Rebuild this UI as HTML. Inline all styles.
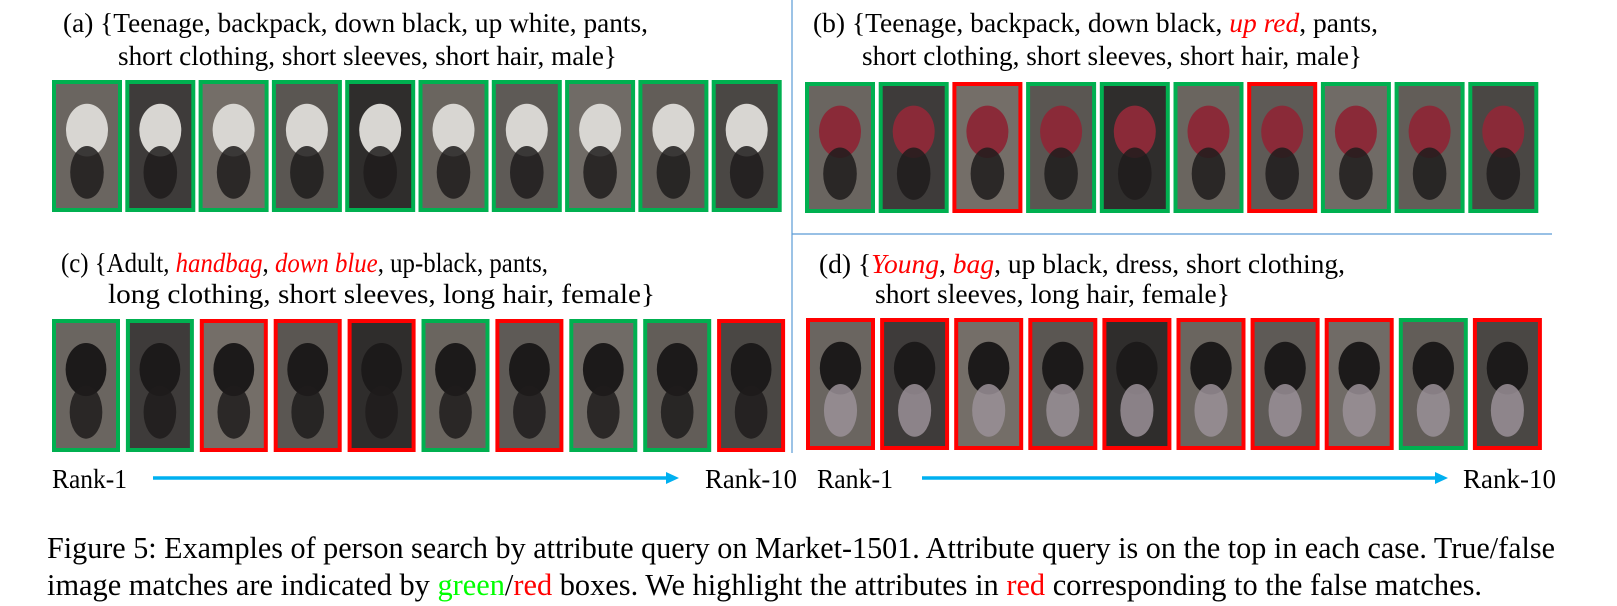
<!DOCTYPE html>
<html><head><meta charset="utf-8"><style>
html,body{margin:0;padding:0;background:#fff}
svg{display:block}
text{font-family:"Liberation Serif",serif;font-size:27px;fill:#000}
.cap{font-size:31px}
.r{fill:#f00;font-style:italic}
</style></head><body>
<svg id="fig" width="1617" height="606" viewBox="0 0 1617 606" xmlns="http://www.w3.org/2000/svg">
<line x1="792" y1="0" x2="792" y2="453" stroke="#5b9bd5" stroke-width="1.2"/>
<line x1="792" y1="234" x2="1552" y2="234" stroke="#5b9bd5" stroke-width="1.2"/>

<text x="63" y="32" textLength="585" lengthAdjust="spacingAndGlyphs">(a) {Teenage, backpack, down black, up white, pants,</text>
<text x="118" y="65" textLength="499" lengthAdjust="spacingAndGlyphs">short clothing, short sleeves, short hair, male}</text>
<text x="813" y="32" textLength="565" lengthAdjust="spacingAndGlyphs">(b) {Teenage, backpack, down black, <tspan class="r">up red</tspan>, pants,</text>
<text x="862" y="65" textLength="500" lengthAdjust="spacingAndGlyphs">short clothing, short sleeves, short hair, male}</text>
<text x="61" y="272" textLength="487" lengthAdjust="spacingAndGlyphs">(c) {Adult, <tspan class="r">handbag</tspan>, <tspan class="r">down blue</tspan>, up-black, pants,</text>
<text x="108" y="303" textLength="547" lengthAdjust="spacingAndGlyphs">long clothing,  short sleeves, long hair, female}</text>
<text x="819" y="273" textLength="526" lengthAdjust="spacingAndGlyphs">(d) {<tspan class="r">Young</tspan>, <tspan class="r">bag</tspan>, up black, dress, short clothing,</text>
<text x="875" y="303" textLength="355" lengthAdjust="spacingAndGlyphs">short sleeves,  long hair, female}</text>

<g id="rows"></g>

<text x="52" y="488" textLength="75" lengthAdjust="spacingAndGlyphs">Rank-1</text>
<line x1="153" y1="478" x2="668" y2="478" stroke="#00b0f0" stroke-width="3.5"/>
<polygon points="666,472 679,478 666,484" fill="#00b0f0"/>
<text x="705" y="488" textLength="92" lengthAdjust="spacingAndGlyphs">Rank-10</text>
<text x="817" y="488" textLength="76" lengthAdjust="spacingAndGlyphs">Rank-1</text>
<line x1="922" y1="478" x2="1437" y2="478" stroke="#00b0f0" stroke-width="3.5"/>
<polygon points="1435,472 1448,478 1435,484" fill="#00b0f0"/>
<text x="1463" y="488" textLength="93" lengthAdjust="spacingAndGlyphs">Rank-10</text>

<text class="cap" x="47" y="558" textLength="1508" lengthAdjust="spacingAndGlyphs">Figure 5: Examples of person search by attribute query on Market-1501. Attribute query is on the top in each case. True/false</text>
<text class="cap" x="47" y="595" textLength="1435" lengthAdjust="spacingAndGlyphs">image matches are indicated by <tspan fill="#00ff00">green</tspan>/<tspan fill="#ff0000">red</tspan> boxes. We highlight the attributes in <tspan fill="#ff0000">red</tspan> corresponding to the false matches.</text>
</svg>
<script>
// match flags per rank (1 = true match / green, 0 = false / red)
const rowA = [1,1,1,1,1,1,1,1,1,1];
const rowB = [1,1,0,1,1,1,0,1,1,1];
const rowC = [1,1,0,0,0,1,0,1,1,0];
const rowD = [0,0,0,0,0,0,0,0,1,0];
const layout = [
  {name:'a', flags:rowA, x0:52,  pitch:73.3, y:80,  h:132, w:70},
  {name:'b', flags:rowB, x0:805, pitch:73.7, y:82,  h:131, w:70},
  {name:'c', flags:rowC, x0:52,  pitch:73.9, y:319, h:133, w:68},
  {name:'d', flags:rowD, x0:806, pitch:74.1, y:318, h:132, w:69}
];
const NS='http://www.w3.org/2000/svg';
const g=document.getElementById('rows');
const tones=['#6a6560','#3e3b3a','#746e68','#5a5652','#2f2d2c','#6a655f','#5e5a56','#706b66','#625d58','#4a4744'];
layout.forEach(row=>{
  row.flags.forEach((f,i)=>{
    const x=row.x0+i*row.pitch;
    const r=document.createElementNS(NS,'rect');
    
    
    r.setAttribute('x',x+2);r.setAttribute('y',row.y+2);
    r.setAttribute('width',row.w-4);r.setAttribute('height',row.h-4);
    r.setAttribute('fill',tones[i%tones.length]);
    r.setAttribute('stroke',f?'#00b050':'#ff0000');r.setAttribute('stroke-width','4');
    g.appendChild(r);
    const top=document.createElementNS(NS,'ellipse');
    
    
    top.setAttribute('cx',x+row.w/2);top.setAttribute('cy',row.y+row.h*0.38);
    top.setAttribute('rx',row.w*0.3);top.setAttribute('ry',row.h*0.2);
    top.setAttribute('fill',row.name==='a'?'#d8d6d2':(row.name==='b'?'#8a2a38':'#1c1a1a'));
    g.appendChild(top);
    const leg=document.createElementNS(NS,'ellipse');
    
    
    leg.setAttribute('cx',x+row.w/2);leg.setAttribute('cy',row.y+row.h*0.7);
    leg.setAttribute('rx',row.w*0.24);leg.setAttribute('ry',row.h*0.2);
    leg.setAttribute('fill',row.name==='d'?'#9a9098':'#1e1c1c');
    leg.setAttribute('opacity','0.85');
    g.appendChild(leg);
  });
});
</script>
</body></html>
